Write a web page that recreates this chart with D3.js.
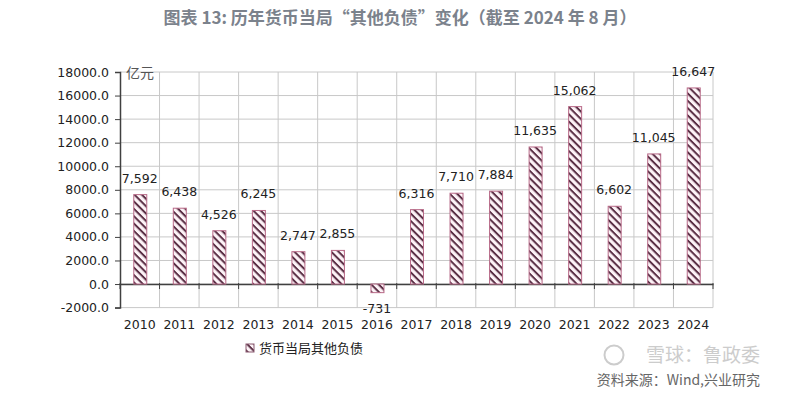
<!DOCTYPE html>
<html><head><meta charset="utf-8">
<script src="https://cdn.jsdelivr.net/npm/d3@7"></script>
<style>body{margin:0;background:#fff;}svg{display:block;}</style>
</head><body>
<svg id="c" width="785" height="393"></svg>
<script>
const years = ["2010","2011","2012","2013","2014","2015","2016","2017","2018","2019","2020","2021","2022","2023","2024"];
const values = [7592,6438,4526,6245,2747,2855,-731,6316,7710,7884,11635,15062,6602,11045,16647];
const yTicks = [-2000,0,2000,4000,6000,8000,10000,12000,14000,16000,18000];
const titleText = "图表 13: 历年货币当局“其他负债”变化（截至 2024 年 8 月）";
const seriesName = "货币当局其他负债";
const unitText = "亿元";
const sourceText = "资料来源：Wind,兴业研究";
const watermark = "雪球：鲁政委";

const svg = d3.select("#c");
const font = "'Noto Sans CJK SC','Noto Sans',sans-serif";
const m = {l:120, r:713, t:72, b:307.6};
const hy = s => s.replace("\u2212","-");

const x = d3.scaleBand().domain(years).range([m.l, m.r]).paddingInner(0).paddingOuter(0);
const y = d3.scaleLinear().domain([-2000,18000]).range([m.b, m.t]);

const defs = svg.append("defs");
const pat = defs.append("pattern").attr("id","hatch").attr("patternUnits","userSpaceOnUse")
  .attr("width",5.2).attr("height",5.2).attr("patternTransform","rotate(45)");
pat.append("rect").attr("width",5.2).attr("height",5.2).attr("fill","#fdf3f7");
pat.append("rect").attr("x",0).attr("y",0).attr("width",5.2).attr("height",2).attr("fill","#5a2f45");

// title
svg.append("text").attr("x",400).attr("y",24).attr("text-anchor","middle")
  .attr("font-family",font).attr("font-weight","bold").attr("font-size",17)
  .attr("fill","#7b828c").text(titleText);

// horizontal grid
svg.append("g").selectAll("line").data(yTicks).join("line")
  .attr("x1",m.l).attr("x2",m.r).attr("y1",d=>y(d)).attr("y2",d=>y(d))
  .attr("stroke","#c8c8c8").attr("stroke-width",1);
// vertical grid
const bounds = years.map(d=>x(d)+x.bandwidth());
svg.append("g").selectAll("line").data(bounds).join("line")
  .attr("x1",d=>d).attr("x2",d=>d).attr("y1",m.t).attr("y2",m.b)
  .attr("stroke","#c8c8c8").attr("stroke-width",1);

// y axis
const yAxis = d3.axisLeft(y).tickValues(yTicks).tickSize(5).tickFormat(d=>hy(d3.format(".1f")(d)));
const ga = svg.append("g").attr("transform",`translate(${m.l},0)`).call(yAxis);
ga.select(".domain").attr("stroke","#404040").attr("stroke-width",1.5);
ga.selectAll(".tick line").attr("stroke","#404040");
ga.selectAll("text").attr("font-family","'DejaVu Sans',sans-serif").attr("font-size",12.5).attr("fill","#222").attr("x",-11);

// x axis at zero
const xAxis = d3.axisBottom(x).tickSize(0).tickFormat(d=>d);
const gx = svg.append("g").attr("transform",`translate(0,${y(0)})`).call(xAxis);
gx.select(".domain").attr("stroke","#404040").attr("stroke-width",1.5);
gx.selectAll("text").attr("font-family","'DejaVu Sans',sans-serif").attr("font-size",12.5).attr("fill","#222")
  .attr("y", 307.6 - y(0) + 13).attr("dy","0.71em");
// boundary ticks
svg.append("g").selectAll("line").data([m.l].concat(bounds)).join("line")
  .attr("x1",d=>d).attr("x2",d=>d).attr("y1",y(0)-1).attr("y2",y(0)+5)
  .attr("stroke","#404040").attr("stroke-width",1);

// bars
const bw = 13;
svg.append("g").selectAll("rect").data(values).join("rect")
  .attr("x",(d,i)=>x(years[i])+x.bandwidth()/2-bw/2+0.5)
  .attr("width",bw)
  .attr("y",d=>Math.min(y(d),y(0)))
  .attr("height",d=>Math.abs(y(d)-y(0)))
  .attr("fill","url(#hatch)").attr("stroke","#b86a88").attr("stroke-width",1);

// data labels
svg.append("g").selectAll("text").data(values).join("text")
  .attr("x",(d,i)=>x(years[i])+x.bandwidth()/2)
  .attr("y",d=> d>=0 ? y(d)-12 : y(d)+20)
  .attr("text-anchor","middle")
  .attr("font-family","'DejaVu Sans',sans-serif").attr("font-size",12.5).attr("fill","#222")
  .text(d=>hy(d3.format(",")(d)));

// unit
svg.append("text").attr("x",126).attr("y",78).attr("font-family",font).attr("font-size",14)
  .attr("fill","#555").text(unitText);

// legend
svg.append("rect").attr("x",246).attr("y",344).attr("width",8).attr("height",8)
  .attr("fill","url(#hatch)").attr("stroke","#8a5a70").attr("stroke-width",1);
svg.append("text").attr("x",259).attr("y",353).attr("font-family",font).attr("font-size",13)
  .attr("fill","#222").text(seriesName);

// watermark
svg.append("text").attr("x",760).attr("y",362).attr("text-anchor","end").attr("font-family",font)
  .attr("font-size",19).attr("fill","#c4c4c4").attr("opacity",0.85).text(watermark);
svg.append("circle").attr("cx",614).attr("cy",355).attr("r",9.5).attr("fill","none").attr("stroke","#cccccc").attr("stroke-width",2);
// source
svg.append("text").attr("x",760).attr("y",385).attr("text-anchor","end").attr("font-family",font)
  .attr("font-size",14).attr("fill","#666").text(sourceText);
</script>
</body></html>
